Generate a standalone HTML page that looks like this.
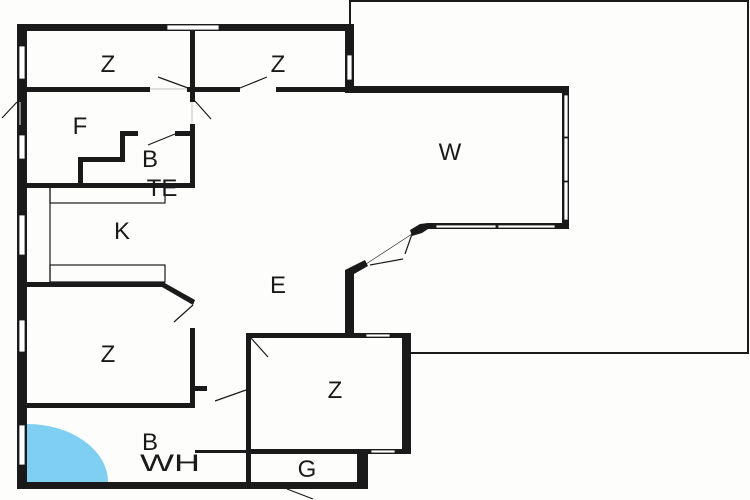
<!DOCTYPE html>
<html><head><style>
body{margin:0;background:#fdfdfb;}
svg{display:block}
text{font-family:"Liberation Sans",sans-serif;font-size:24px;fill:#1a1a1a;text-anchor:middle;}
</style></head><body>
<svg width="750" height="500" viewBox="0 0 750 500">
<rect width="750" height="500" fill="#fdfdfb"/>
<polyline points="350,26 350,1 748,1 748,353 410,353" fill="none" stroke="#1a1a1a" stroke-width="2"/>
<path d="M27,482 L27,424 A81,58 0 0 1 108,482 Z" fill="#7fcff2"/>
<g fill="#1a1a1a">
<rect x="17" y="24" width="10" height="465"/>
<rect x="17" y="24" width="337" height="7"/>
<rect x="345" y="24" width="9" height="68"/>
<rect x="27" y="87" width="123" height="5"/>
<rect x="187" y="87" width="53" height="5"/>
<rect x="276" y="87" width="70" height="5"/>
<rect x="345" y="86" width="223" height="7"/>
<rect x="190" y="30" width="5" height="72"/>
<rect x="190" y="124" width="5" height="63"/>
<rect x="562" y="86" width="7" height="143"/>
<rect x="428" y="223" width="141" height="6"/>
<polygon points="428,223 428,229 422,233 412,236 410,230 420,224"/>
<polygon points="345,270 365,260 368,266 354,274 354,338 345,338"/>
<rect x="246" y="333" width="164" height="5"/>
<rect x="402" y="333" width="9" height="121"/>
<rect x="246" y="449" width="165" height="5"/>
<rect x="246" y="336" width="5" height="152"/>
<rect x="357" y="449" width="11" height="40"/>
<rect x="17" y="482" width="351" height="7"/>
<rect x="27" y="183" width="168" height="5"/>
<rect x="120" y="131" width="18" height="5"/>
<rect x="175" y="131" width="20" height="5"/>
<rect x="120" y="131" width="5" height="30"/>
<rect x="78" y="157" width="47" height="5"/>
<rect x="78" y="157" width="5" height="30"/>
<rect x="27" y="282" width="138" height="5"/>
<polygon points="163,282 195,300 193,305 162,287"/>
<rect x="190" y="328" width="5" height="79"/>
<rect x="27" y="403" width="168" height="5"/>
<rect x="195" y="386" width="12" height="5"/>
<rect x="195" y="450" width="51" height="3"/>
</g>
<g fill="#fff" stroke="#1a1a1a" stroke-width="0.8">
<rect x="167" y="25" width="52" height="5"/>
<rect x="19" y="46" width="6" height="33"/>
<rect x="19" y="135" width="6" height="24"/>
<rect x="19" y="215" width="6" height="40"/>
<rect x="19" y="320" width="6" height="32"/>
<rect x="19" y="425" width="6" height="40"/>
<rect x="347" y="55" width="5" height="25"/>
<rect x="564" y="95" width="4" height="42"/>
<rect x="564" y="138" width="4" height="43"/>
<rect x="564" y="182" width="4" height="38"/>
<rect x="436" y="225" width="60" height="3"/>
<rect x="498" y="225" width="57" height="3"/>
<rect x="366" y="334" width="24" height="3"/>
<rect x="371" y="450" width="24" height="3"/>
</g>
<g stroke="#1a1a1a" stroke-width="1.2" fill="none">
<line x1="158" y1="77" x2="188" y2="88"/>
<line x1="195" y1="101" x2="211" y2="119"/>
<line x1="240" y1="88" x2="267" y2="77"/>
<line x1="17" y1="102" x2="2" y2="118"/>
<line x1="175" y1="134" x2="148" y2="145"/>
<line x1="370" y1="265" x2="403" y2="259"/>
<line x1="412" y1="234" x2="405" y2="254"/>
<line x1="366" y1="264" x2="412" y2="234" stroke-width="0.6"/>
<line x1="193" y1="305" x2="174" y2="322"/>
<line x1="251" y1="338" x2="268" y2="357"/>
<line x1="246" y1="390" x2="215" y2="401"/>
<line x1="287" y1="489" x2="313" y2="499"/>
<line x1="50" y1="187" x2="50" y2="282"/>
<rect x="50" y="187" width="115" height="16"/>
<rect x="50" y="265" width="115" height="17"/>
<line x1="150" y1="89" x2="187" y2="89" stroke="#ccc"/>
<line x1="192" y1="102" x2="192" y2="124" stroke="#ccc"/>
<line x1="20" y1="102" x2="20" y2="125" stroke="#ccc"/>
</g>
<text x="108" y="72">Z</text>
<text x="278" y="72">Z</text>
<text x="80" y="134">F</text>
<text x="150" y="167">B</text>
<text x="162" y="196">TE</text>
<text x="122" y="239">K</text>
<text x="450" y="160">W</text>
<text x="278" y="293">E</text>
<text x="108" y="362">Z</text>
<text x="335" y="398">Z</text>
<text x="150" y="450">B</text>
<text x="170" y="471" textLength="60" lengthAdjust="spacingAndGlyphs">WH</text>
<text x="307" y="477">G</text>
</svg>
</body></html>
